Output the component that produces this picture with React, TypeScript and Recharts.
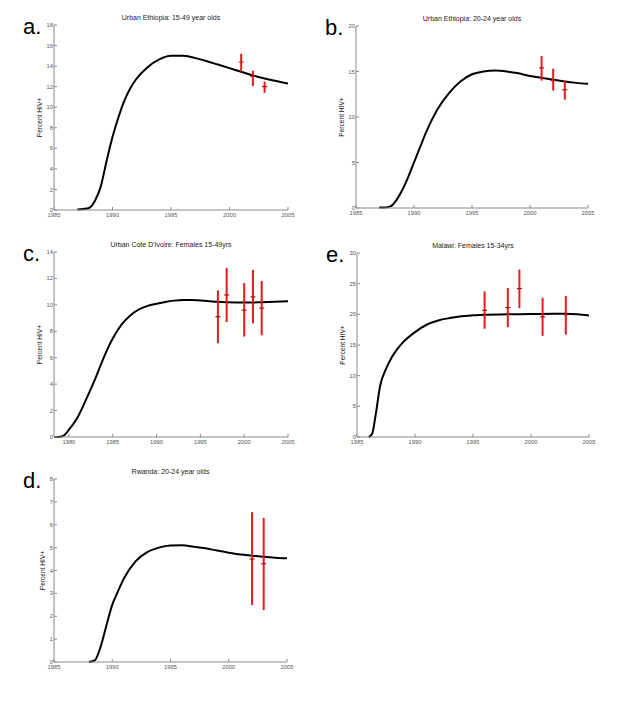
import React from 'react'
import { ComposedChart, Line, Scatter, ErrorBar, XAxis, YAxis, Label } from 'recharts'

// a. Urban Ethiopia 15-49
const yearsA = [1987, 1987.5, 1988, 1988.5, 1989, 1989.5, 1990, 1990.5, 1991, 1991.5, 1992, 1993, 1994, 1995, 1996, 1997, 1998, 1999, 2000, 2001, 2002, 2003, 2004, 2005]
const curveA = [0.05, 0.1, 0.2, 0.9, 2.3, 4.8, 7.1, 9.0, 10.6, 11.8, 12.7, 13.9, 14.65, 15.0, 15.0, 14.8, 14.5, 14.15, 13.8, 13.45, 13.1, 12.8, 12.55, 12.3]
const obsYearsA = [2001, 2002, 2003]
const obsA = [14.4, 13.0, 12.0]
const lowA = [13.5, 12.05, 11.4]
const highA = [15.2, 13.55, 12.5]

// b. Urban Ethiopia 20-24
const yearsB = [1987, 1987.5, 1988, 1988.5, 1989, 1989.5, 1990, 1990.5, 1991, 1992, 1993, 1994, 1995, 1996, 1997, 1998, 1999, 2000, 2001, 2002, 2003, 2004, 2005]
const curveB = [0.05, 0.05, 0.2, 0.9, 2.0, 3.4, 5.0, 6.6, 8.2, 10.8, 12.6, 13.9, 14.7, 15.0, 15.1, 15.0, 14.8, 14.5, 14.3, 14.1, 13.9, 13.75, 13.65]
const obsYearsB = [2001, 2002, 2003]
const obsB = [15.4, 14.0, 13.0]
const lowB = [14.0, 12.9, 11.9]
const highB = [16.7, 15.3, 14.0]

// c. Urban Cote D'Ivoire
const yearsC = [1978.3, 1979, 1979.5, 1980, 1981, 1982, 1983, 1984, 1985, 1986, 1987, 1988, 1989, 1990, 1991, 1992, 1993, 1994, 1995, 1996, 1997, 1998, 2000, 2002, 2005]
const curveC = [0, 0.02, 0.15, 0.55, 1.5, 2.9, 4.4, 6.05, 7.45, 8.5, 9.2, 9.65, 9.92, 10.08, 10.22, 10.32, 10.37, 10.37, 10.33, 10.28, 10.23, 10.2, 10.17, 10.2, 10.27]
const obsYearsC = [1997, 1998, 2000, 2001, 2002]
const obsC = [9.1, 10.75, 9.6, 10.6, 9.75]
const lowC = [7.1, 8.7, 7.6, 8.6, 7.7]
const highC = [11.1, 12.8, 11.65, 12.65, 11.8]

// e. Malawi
const yearsE = [1986, 1986.3, 1986.6, 1987, 1987.5, 1988, 1988.5, 1989, 1990, 1991, 1992, 1993, 1994, 1995, 1996, 1998, 2000, 2002, 2003, 2004, 2005]
const curveE = [0, 0.5, 3.5, 8.4, 11.1, 13.0, 14.4, 15.5, 17.1, 18.3, 19.0, 19.4, 19.7, 19.85, 19.95, 20.0, 20.05, 20.1, 20.1, 20.0, 19.8]
const obsYearsE = [1996, 1998, 1999, 2001, 2003]
const obsE = [20.65, 21.1, 24.2, 19.6, 19.95]
const lowE = [17.65, 17.9, 21.0, 16.5, 16.7]
const highE = [23.75, 24.3, 27.3, 22.7, 23.0]

// d. Rwanda
const yearsD = [1988, 1988.5, 1989, 1989.5, 1990, 1990.5, 1991, 1992, 1993, 1994, 1995, 1996, 1997, 1998, 1999, 2000, 2001, 2002, 2003, 2004, 2005]
const curveD = [0, 0.07, 0.66, 1.6, 2.5, 3.1, 3.65, 4.4, 4.8, 5.0, 5.09, 5.1, 5.04, 4.97, 4.87, 4.78, 4.7, 4.65, 4.6, 4.56, 4.53]
const obsYearsD = [2002, 2003]
const obsD = [4.5, 4.3]
const lowD = [2.49, 2.27]
const highD = [6.55, 6.3]

const ticks1985 = [1985, 1990, 1995, 2000, 2005]
const ticks1980 = [1980, 1985, 1990, 1995, 2000, 2005]

const RED = '#e31b1b'
const AXIS = '#8a8a8a'
const FONT = '"Liberation Sans", Arial, Helvetica, sans-serif'

type PanelProps = {
  letter: string
  title: string
  x: number
  y: number
  w: number
  h: number
  xDomain: [number, number]
  xTicks: number[]
  yTicks: number[]
  years: number[]
  curve: number[]
  obsYears: number[]
  obs: number[]
  low: number[]
  high: number[]
  labelGap?: number
}

const marker = (p: any) => (
  <line x1={p.cx - 2.5} x2={p.cx + 2.5} y1={p.cy} y2={p.cy} stroke="#b01010" strokeWidth={1.2} />
)

function Panel(props: PanelProps) {
  const { letter, title, x, y, w, h, xDomain, xTicks, yTicks, years, curve, obsYears, obs, low, high } = props
  const gap = props.labelGap ?? 14
  const line = years.map((yr, i) => ({ x: yr, v: curve[i] }))
  const points = obsYears.map((yr, i) => ({ x: yr, y: obs[i], err: [obs[i] - low[i], high[i] - obs[i]] }))
  const axisW = 40
  const tick = { fontSize: 5.8, fill: '#555', fontFamily: FONT }

  return (
    <>
      <div style={{ position: 'absolute', left: x - 31, top: y - 9, fontSize: 22, fontFamily: FONT, lineHeight: '22px' }}>
        {letter}
      </div>
      <div
        style={{
          position: 'absolute',
          left: x,
          width: w,
          top: y - 12,
          textAlign: 'center',
          fontSize: 7,
          fontFamily: FONT,
          lineHeight: '9px',
          color: '#222',
        }}
      >
        {title}
      </div>
      <div style={{ position: 'absolute', left: x - axisW, top: y - 5 }}>
        <ComposedChart width={w + axisW + 12} height={h + 5 + 15} margin={{ top: 5, right: 12, left: 0, bottom: 0 }}>
          <XAxis
            type="number"
            dataKey="x"
            domain={xDomain}
            ticks={xTicks}
            interval={0}
            height={15}
            allowDataOverflow
            stroke={AXIS}
            tickSize={-3}
            tickMargin={6}
            tick={tick}
          />
          <YAxis
            type="number"
            domain={[0, yTicks[yTicks.length - 1]]}
            ticks={yTicks}
            interval={0}
            width={axisW}
            stroke={AXIS}
            tickSize={-3}
            tickMargin={4}
            tick={tick}
          >
            <Label
              value="Percent HIV+"
              angle={-90}
              position="insideLeft"
              offset={axisW - gap}
              style={{ textAnchor: 'middle', fontSize: 6.6, fill: '#111', fontFamily: FONT }}
            />
          </YAxis>
          <Line
            data={line}
            dataKey="v"
            type="monotone"
            stroke="#000"
            strokeWidth={2}
            dot={false}
            isAnimationActive={false}
          />
          <Scatter data={points} dataKey="y" shape={marker} isAnimationActive={false}>
            <ErrorBar dataKey="err" direction="y" width={0} stroke={RED} strokeWidth={2} isAnimationActive={false} />
          </Scatter>
        </ComposedChart>
      </div>
    </>
  )
}

export default function App() {
  return (
    <div style={{ position: 'absolute', left: 0, top: 0, width: 633, height: 715, background: '#fff', overflow: 'hidden' }}>
      <Panel
        letter="a."
        title="Urban Ethiopia: 15-49 year olds"
        x={54}
        y={25}
        w={234}
        h={185}
        xDomain={[1985, 2005]}
        xTicks={ticks1985}
        yTicks={[0, 2, 4, 6, 8, 10, 12, 14, 16, 18]}
        years={yearsA}
        curve={curveA}
        obsYears={obsYearsA}
        obs={obsA}
        low={lowA}
        high={highA}
      />
      <Panel
        letter="b."
        title="Urban Ethiopia: 20-24 year olds"
        x={356}
        y={26}
        w={232}
        h={182}
        xDomain={[1985, 2005]}
        xTicks={ticks1985}
        yTicks={[0, 5, 10, 15, 20]}
        years={yearsB}
        curve={curveB}
        obsYears={obsYearsB}
        obs={obsB}
        low={lowB}
        high={highB}
      />
      <Panel
        letter="c."
        title="Urban Cote D'Ivoire: Females 15-49yrs"
        x={54}
        y={252}
        w={234}
        h={185}
        xDomain={[1978.3, 2005]}
        xTicks={ticks1980}
        yTicks={[0, 2, 4, 6, 8, 10, 12, 14]}
        years={yearsC}
        curve={curveC}
        obsYears={obsYearsC}
        obs={obsC}
        low={lowC}
        high={highC}
      />
      <Panel
        letter="e."
        title="Malawi: Females 15-34yrs"
        x={357}
        y={253}
        w={232}
        h={184}
        xDomain={[1985, 2005]}
        xTicks={ticks1985}
        yTicks={[0, 5, 10, 15, 20, 25, 30]}
        years={yearsE}
        curve={curveE}
        obsYears={obsYearsE}
        obs={obsE}
        low={lowE}
        high={highE}
      />
      <Panel
        letter="d."
        title="Rwanda: 20-24 year olds"
        x={54}
        y={479}
        w={233}
        h={183}
        xDomain={[1985, 2005]}
        xTicks={ticks1985}
        yTicks={[0, 1, 2, 3, 4, 5, 6, 7, 8]}
        years={yearsD}
        curve={curveD}
        obsYears={obsYearsD}
        obs={obsD}
        low={lowD}
        high={highD}
        labelGap={11}
      />
    </div>
  )
}
